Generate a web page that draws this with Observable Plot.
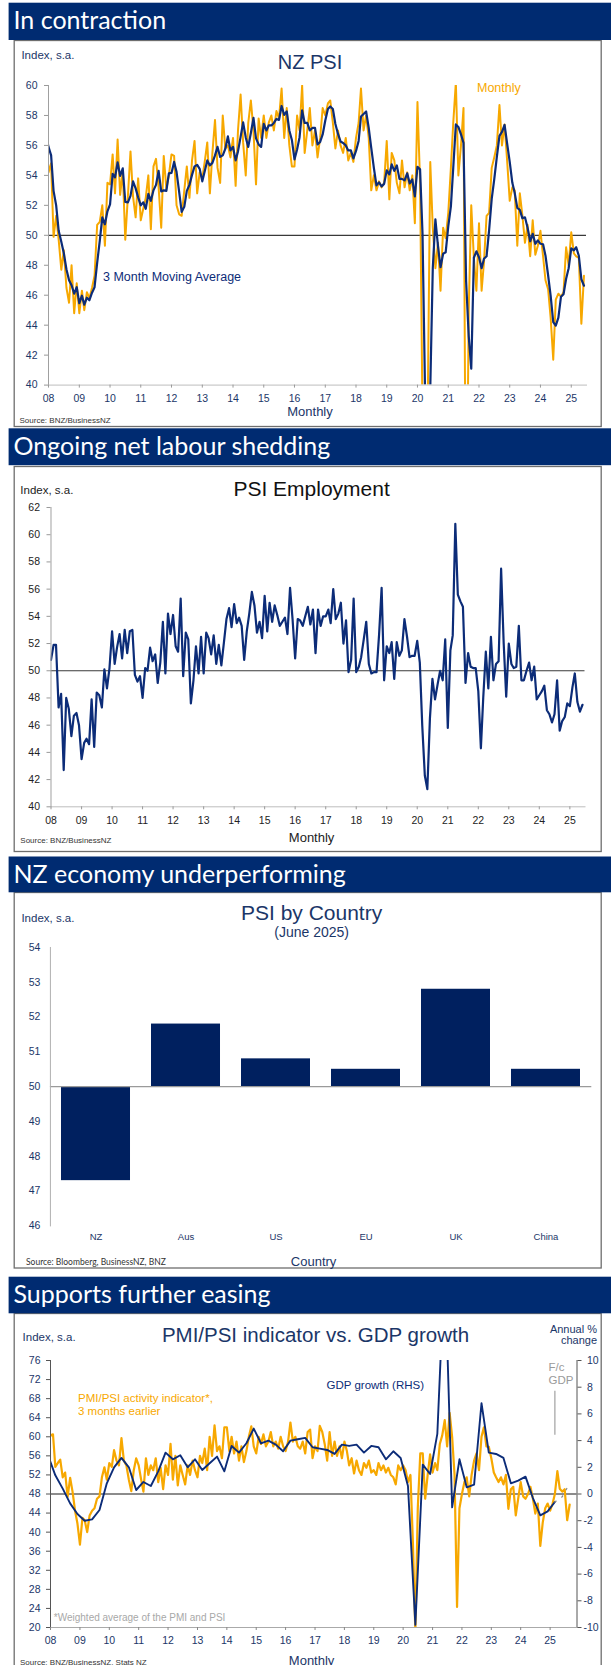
<!DOCTYPE html>
<html><head><meta charset="utf-8">
<script src="https://cdn.jsdelivr.net/npm/d3@7"></script>
<script src="https://cdn.jsdelivr.net/npm/@observablehq/plot@0.6"></script>
<style>
body{margin:0;background:#fff;}
#page{position:relative;width:611px;height:1665px;overflow:hidden;background:#fff;}
</style></head><body><div id="page"></div>
<script>
// ---------------- DATA ----------------
// NZ PSI monthly, Nov 2007 .. Jun 2025 (index, s.a.)
const psiMonthly = [
  56.5, 57.0,
  54.2, 54.8, 49.9, 51.3, 49.7, 47.7, 49.0, 46.5, 45.5, 48.0, 44.8, 46.8,
  44.8, 46.3, 45.0, 46.2, 45.8, 46.5, 47.3, 50.7, 50.9, 52.0, 49.3, 53.5,
  53.4, 55.4, 52.8, 56.4, 52.7, 54.3, 49.7, 52.6, 55.6, 52.6, 51.2, 53.8,
  51.0, 51.8, 52.5, 54.0, 50.4, 54.6, 55.1, 53.2, 50.5, 55.3, 53.1, 54.0,
  55.4, 55.3, 52.0, 51.4, 51.3, 53.0, 54.6, 52.5, 55.0, 56.3, 52.8, 54.2,
  53.8, 55.0, 56.2, 52.8, 55.5, 57.7, 54.5, 53.5, 58.0, 55.8, 56.0, 55.2,
  56.5, 53.3, 57.0, 59.4, 56.2, 54.0, 57.5, 59.0, 57.0, 53.4, 57.8, 56.5,
  58.0, 56.5, 57.5, 58.0, 57.0, 58.3, 57.8, 59.8, 56.5, 58.5, 56.0, 54.6,
  54.6, 58.0, 57.0, 60.0, 55.5, 57.0, 58.5, 56.0, 57.0, 55.2, 56.5, 58.5,
  58.0, 58.8, 59.0, 57.5, 55.8, 57.0, 56.0, 55.5, 56.5, 55.0, 55.5, 54.9,
  56.5, 57.5, 59.8, 57.0, 58.0, 56.5, 53.0, 54.0, 53.0, 53.6, 53.2, 53.5,
  56.3, 52.4, 55.5, 55.0, 53.5, 52.8, 55.0, 53.2, 54.2, 53.0, 54.0, 50.8,
  58.9, 53.5, 38.0, 26.3, 38.0, 54.9, 50.5, 47.8, 49.5, 46.3, 50.5, 49.8,
  51.5, 54.5, 57.5, 60.2, 54.0, 56.0, 58.5, 26.3, 45.0, 52.0, 48.5, 46.3,
  50.8, 46.3, 48.2, 51.3, 51.5, 54.5, 55.2, 56.0, 58.7, 56.0, 57.4, 55.0,
  52.3, 53.2, 53.0, 49.3, 52.8, 51.3, 49.5, 50.7, 48.6, 51.0, 48.7, 49.3,
  50.3, 48.6, 47.0, 46.4, 44.5, 41.7, 45.7, 46.1, 45.9, 46.2, 49.2, 48.0,
  50.2, 48.8, 48.6, 48.5, 44.1, 47.3
];
// PSI Employment monthly, Jan 2008 .. Jun 2025
const psiEmployment = [
  50.8, 51.9, 51.9, 47.3, 48.3, 42.7, 48.0, 47.2, 45.2, 46.7, 46.9, 46.0,
  43.5, 44.7, 45.0, 44.6, 47.9, 44.4, 48.4, 48.2, 47.3, 50.1, 48.7, 50.2,
  52.9, 50.5, 51.7, 52.7, 50.9, 53.0, 51.3, 52.9, 53.0, 49.7, 49.2, 49.6,
  48.0, 50.2, 50.0, 51.7, 50.7, 51.2, 49.1, 50.6, 53.6, 49.8, 54.2, 52.7,
  54.1, 51.8, 51.4, 55.3, 49.6, 52.8, 52.3, 47.6, 49.3, 51.8, 49.8, 52.5,
  49.8, 52.8, 52.4, 51.2, 52.6, 50.5, 51.9, 50.4, 52.1, 53.8, 54.6, 53.2,
  54.9, 53.5, 53.9, 53.3, 50.8, 52.9, 54.2, 55.8, 54.8, 52.8, 53.6, 52.4,
  55.5, 52.9, 55.0, 53.6, 54.8, 54.1, 53.3, 53.6, 53.9, 52.7, 56.1, 53.8,
  50.9, 53.8, 53.7, 53.3, 54.0, 54.7, 53.4, 54.5, 51.3, 54.5, 53.3, 54.0,
  54.0, 54.5, 53.5, 56.0, 53.8, 54.2, 55.0, 52.0, 53.7, 49.9, 50.8, 55.3,
  49.9, 50.3, 51.0, 52.3, 53.6, 50.5, 49.8, 49.9, 49.9, 52.6, 56.1, 49.3,
  51.8, 51.3, 52.1, 49.4, 52.1, 51.1, 51.5, 53.8, 52.5, 51.0, 51.1, 51.1,
  52.2, 50.6, 46.0, 42.3, 41.3, 46.5, 49.4, 47.9, 49.0, 50.0, 49.3, 52.3,
  45.8, 51.5, 52.6, 60.8, 55.6, 55.1, 54.7, 49.1, 51.3, 50.3, 50.2, 50.2,
  48.5, 44.3, 48.0, 51.4, 48.7, 52.5, 49.3, 50.5, 50.7, 57.5, 52.0, 48.1,
  52.0, 50.5, 50.2, 50.3, 53.3, 49.3, 49.3, 50.0, 50.6, 49.3, 50.3, 47.9,
  48.2, 48.5, 48.9, 47.1, 46.8, 46.2, 46.8, 49.3, 45.6, 46.3, 46.6, 47.6,
  47.4, 48.8, 49.8, 47.7, 47.0, 47.5
];
// PSI by country, June 2025
const countries = ["NZ", "Aus", "US", "EU", "UK", "China"];
const countryPSI = [47.3, 51.8, 50.8, 50.5, 52.8, 50.5];
// PMI/PSI activity indicator, plotted 3 months later: Jan 2008 .. Sep 2025
const activityIndicator = [
  60.3, 60.5, 53.7, 54.5, 55.2, 51.5, 52.5, 47.4, 51.4, 48.5, 44.5, 41.8,
  37.4, 43.0, 42.5, 40.0, 43.5, 44.5, 45.0, 47.0, 47.5, 51.5, 53.6, 51.0,
  54.5, 53.7, 57.2, 55.0, 54.0, 59.7, 55.0, 54.0, 51.0, 48.6, 53.0, 55.5,
  54.0, 51.0, 48.5, 55.5, 52.0, 54.0, 53.0, 55.5, 50.5, 53.5, 49.0, 54.0,
  52.0, 58.5, 51.0, 56.0, 49.8, 54.0, 52.0, 50.0, 54.0, 52.0, 55.0, 53.0,
  51.5, 56.0, 54.5, 57.5, 53.0, 60.0, 56.0, 62.4, 57.0, 58.0, 55.5, 62.0,
  62.0, 57.0, 60.0, 56.5, 59.0, 55.0, 58.0, 54.7, 57.0, 60.0, 62.2, 58.0,
  56.5, 60.0, 58.5, 60.5, 58.0, 59.0, 61.0, 58.0, 59.0, 57.5, 60.0, 58.0,
  57.0, 59.0, 63.0, 59.0, 60.0, 58.0, 57.5, 59.0, 56.5, 61.0, 61.5, 55.5,
  58.0, 57.0, 62.3, 61.0, 58.5, 55.0, 61.0, 56.0, 59.0, 56.0, 58.0, 55.5,
  59.0, 57.0, 54.0, 55.5, 52.3, 55.0, 53.0, 52.0, 54.5, 53.5, 55.0, 52.5,
  53.0, 52.0, 54.5, 53.0, 54.0, 52.5, 53.5, 52.0, 51.5, 50.0, 54.0, 53.0,
  54.0, 53.0, 50.5, 52.0, 38.0, 19.0, 45.0, 56.5, 56.5, 47.0, 52.0, 56.3,
  52.5, 54.5, 53.0, 58.5, 60.3, 63.5, 58.0, 65.0, 60.0, 52.0, 24.3, 45.0,
  48.0, 50.5, 51.5, 47.5, 52.0, 55.0, 56.5, 53.0, 60.0, 62.0, 58.0, 57.9,
  55.5, 52.5, 51.5, 50.5, 51.5, 50.0, 52.0, 44.9, 49.0, 49.5, 43.5, 47.0,
  50.5, 47.5, 47.0, 48.0, 49.5, 47.0, 43.9, 46.0, 37.1, 42.0, 45.0, 46.0,
  44.5, 46.0, 48.0, 52.8, 49.1, 48.5, 49.0, 42.5, 45.8
];
// GDP growth, annual % change, quarterly Dec 2007 .. Mar 2025
const gdpGrowth = [
  2.9,
  1.4, 0.4, -0.7, -1.5,
  -2.0, -1.9, -1.2, 0.8,
  2.0, 2.7, 2.0, 0.3,
  0.9, 0.6, 1.7, 3.1,
  2.6, 2.9, 2.0, 2.6,
  1.8, 2.3, 2.8, 1.7,
  3.6, 3.1, 3.8, 4.9,
  3.8, 4.0, 3.7, 3.2,
  4.0, 4.1, 4.2, 3.5,
  3.4, 3.3, 3.0, 3.7,
  3.6, 3.7, 3.1, 3.6,
  3.5, 2.6, 3.2, 2.7,
  0.6, -9.8, 2.2, 1.5,
  4.5, 17.4, -1.0, 2.6,
  0.5, 0.7, 6.8, 3.1,
  3.0, 2.7, 0.8, 1.0,
  1.3, -0.3, -1.6, -1.3,
  -0.6
];
// GDP forecast, quarterly Mar 2025 .. Sep 2025
const gdpForecast = [-0.6, -0.2, 0.8];
const yearTicks = d3.range(2008, 2026);
const indexTicksPSI = d3.range(40, 61, 2);
const indexTicksEmp = d3.range(40, 63, 2);
const indexTicksCountry = d3.range(46, 55, 1);
const indexTicksPMI = d3.range(20, 77, 4);
const gdpTicks = d3.range(-10, 11, 2);

// ---------------- HELPERS ----------------
const monthly = (y, m, arr) => arr.map((v, i) => ({date: new Date(Date.UTC(y, m + i, 1)), v}));
const quarterly = (y, m, arr) => arr.map((v, i) => ({date: new Date(Date.UTC(y, m + 3 * i, 1)), v}));
const psi = monthly(2007, 10, psiMonthly);
const emp = monthly(2008, 0, psiEmployment);
const byCountry = countries.map((c, i) => ({c, v: countryPSI[i]}));
const indicator = monthly(2008, 0, activityIndicator);
const gdp = quarterly(2007, 11, gdpGrowth);
const gdpFc = quarterly(2025, 2, gdpForecast);
const years = yearTicks.map(y => new Date(Date.UTC(y, 0, 1)));
const fmtYY = d3.utcFormat("%y");
const gdpToIdx = g => 48 + 2.8 * g;

const NAVY = "#0c2c78", ORANGE = "#f7a800", TXT = "#1b3668", BANNER = "#002b71", BAR = "#00205f";
const FONT = "'Liberation Sans', Arial, sans-serif";
const page = document.getElementById("page");

// ---------------- BACKGROUND: banners, boxes, texts ----------------
const bg = d3.select(page).append("svg")
  .attr("width", 611).attr("height", 1665)
  .style("position", "absolute").style("left", "0px").style("top", "0px");

function banner(top, h, label) {
  bg.append("rect").attr("x", 8.6).attr("y", top).attr("width", 603).attr("height", h).attr("fill", BANNER);
  bg.append("text").attr("x", 13.5).attr("y", top + 26.4).attr("fill", "#fff")
    .attr("font-family", "Lato, 'Open Sans', sans-serif").attr("font-size", 25).text(label);
}
function box(top, bottom) {
  bg.append("rect").attr("x", 14.2).attr("y", top).attr("width", 587).attr("height", bottom - top)
    .attr("fill", "#fff").attr("stroke", "#6e6e6e").attr("stroke-width", 1.3);
}
function txt(x, y, s, size, fill, anchor = "start", family = FONT) {
  bg.append("text").attr("x", x).attr("y", y).attr("font-size", size).attr("fill", fill)
    .attr("text-anchor", anchor).attr("font-family", family).text(s);
}

box(40.5, 426.5); box(466.5, 851.5); box(892.5, 1268); box(1313.5, 1700);
banner(2.7, 37.3, "In contraction");
banner(428.3, 36.9, "Ongoing net labour shedding");
banner(856.5, 35.8, "NZ economy underperforming");
banner(1276.7, 36.6, "Supports further easing");

// panel 1 texts
txt(21.4, 58.7, "Index, s.a.", 11.5, TXT);
txt(310, 68.5, "NZ PSI", 20, TXT, "middle");
txt(477, 91.8, "Monthly", 12.5, ORANGE);
txt(103, 281, "3 Month Moving Average", 12.5, NAVY);
txt(310, 416, "Monthly", 13, TXT, "middle");
txt(19.5, 422.8, "Source: BNZ/BusinessNZ", 8, "#333");
// panel 2 texts
txt(20.3, 494.3, "Index, s.a.", 11.5, "#222");
txt(311.6, 496.3, "PSI Employment", 21, "#111", "middle");
txt(311.6, 842, "Monthly", 13, "#222", "middle");
txt(20.3, 843, "Source: BNZ/BusinessNZ", 8, "#333");
// panel 3 texts
txt(21.4, 921.5, "Index, s.a.", 11.5, TXT);
txt(311.6, 920, "PSI by Country", 21, TXT, "middle");
txt(311.6, 936.5, "(June 2025)", 14, TXT, "middle");
txt(313.6, 1265.5, "Country", 13, TXT, "middle");
txt(26, 1264.5, "Source: Bloomberg, BusinessNZ, BNZ", 8.5, "#333", "start", "Lato, sans-serif");
// panel 4 texts
txt(22.6, 1340.5, "Index, s.a.", 11.5, TXT);
txt(315.5, 1341.5, "PMI/PSI indicator vs. GDP growth", 20.5, TXT, "middle");
txt(597, 1333, "Annual %", 11, TXT, "end");
txt(597, 1344, "change", 11, TXT, "end");
txt(326.5, 1389, "GDP growth (RHS)", 11.5, NAVY);
txt(78, 1402.3, "PMI/PSI activity indicator*,", 11.5, ORANGE);
txt(78, 1414.5, "3 months earlier", 11.5, ORANGE);
txt(548.5, 1370.7, "F/c", 11.5, "#9a9a9a");
txt(548.5, 1384, "GDP", 11.5, "#9a9a9a");
txt(53.8, 1620.7, "*Weighted average of the PMI and PSI", 10, "#a8a8a8");
txt(311.6, 1664.5, "Monthly", 13, TXT, "middle");
txt(20, 1665, "Source: BNZ/BusinessNZ, Stats NZ", 8, "#333");

// ---------------- PLOTS ----------------
function place(svg, top) {
  svg.style.position = "absolute";
  svg.style.left = "0px";
  svg.style.top = top + "px";
  page.appendChild(svg);
}
const baseStyle = {background: "transparent", fontFamily: FONT, overflow: "visible"};

// Panel 1: NZ PSI
{
  const top = 84.7, bottom = 384.3, mt = 12, mb = 36;
  const chart = Plot.plot({
    width: 611, height: (bottom - top) + mt + mb,
    marginLeft: 48, marginRight: 25, marginTop: mt, marginBottom: mb,
    style: baseStyle,
    x: {type: "utc", domain: [new Date(Date.UTC(2008, 0, 1)), new Date(Date.UTC(2025, 6, 1))]},
    y: {domain: [40, 60]},
    marks: [
      Plot.ruleY([50], {stroke: "#3a3a3a", strokeWidth: 1.2}),
      Plot.line(psi, {x: "date", y: "v", stroke: ORANGE, strokeWidth: 2, clip: true}),
      Plot.line(psi, Plot.windowY({k: 3, anchor: "end"}, {x: "date", y: "v", stroke: NAVY, strokeWidth: 2.2, clip: true})),
      Plot.frame({anchor: "left", stroke: "#a0a0a0"}),
      Plot.frame({anchor: "bottom", stroke: "#bdbdbd"}),
      Plot.axisY({ticks: indexTicksPSI, tickSize: 4, tickPadding: 7, stroke: "#999", fill: TXT, fontSize: 10.5, label: null}),
      Plot.axisX({ticks: years, tickFormat: fmtYY, tickSize: 3, tickPadding: 6, stroke: "#999", fill: TXT, fontSize: 10.5, label: null})
    ]
  });
  place(chart, top - mt);
}

// Panel 2: PSI Employment
{
  const top = 506.7, bottom = 806, mt = 12, mb = 36;
  const chart = Plot.plot({
    width: 611, height: (bottom - top) + mt + mb,
    marginLeft: 50.5, marginRight: 26.5, marginTop: mt, marginBottom: mb,
    style: baseStyle,
    x: {type: "utc", domain: [new Date(Date.UTC(2008, 0, 1)), new Date(Date.UTC(2025, 6, 1))]},
    y: {domain: [40, 62]},
    marks: [
      Plot.ruleY([50], {stroke: "#3a3a3a", strokeWidth: 1.2}),
      Plot.line(emp, {x: "date", y: "v", stroke: NAVY, strokeWidth: 2.2, clip: true}),
      Plot.frame({anchor: "left", stroke: "#a0a0a0"}),
      Plot.frame({anchor: "bottom", stroke: "#bdbdbd"}),
      Plot.axisY({ticks: indexTicksEmp, tickSize: 4, tickPadding: 7, stroke: "#999", fill: "#222", fontSize: 10.5, label: null}),
      Plot.axisX({ticks: years, tickFormat: fmtYY, tickSize: 3, tickPadding: 6.5, stroke: "#999", fill: "#222", fontSize: 10.5, label: null})
    ]
  });
  place(chart, top - mt);
}

// Panel 3: PSI by Country
{
  const top = 947.3, bottom = 1225.7, mt = 10, mb = 28;
  const chart = Plot.plot({
    width: 611, height: (bottom - top) + mt + mb,
    marginLeft: 49.9, marginRight: 19.7, marginTop: mt, marginBottom: mb,
    style: baseStyle,
    x: {domain: countries, paddingInner: 0.232, paddingOuter: 0.116},
    y: {domain: [46, 54]},
    marks: [
      Plot.barY(byCountry, {x: "c", y1: 50, y2: "v", fill: BAR}),
      Plot.ruleY([50], {stroke: "#9a9a9a", strokeWidth: 1.2}),
      Plot.frame({anchor: "left", stroke: "#b0b0b0"}),
      Plot.axisY({ticks: indexTicksCountry, tickSize: 0, tickPadding: 10, fill: TXT, fontSize: 10.5, label: null}),
      Plot.axisX({tickSize: 0, tickPadding: 7, fill: TXT, fontSize: 9.5, label: null})
    ]
  });
  place(chart, top - mt);
}

// Panel 4: PMI/PSI indicator vs GDP growth (RHS mapped onto the index scale)
{
  const top = 1360, bottom = 1627, mt = 10, mb = 30;
  const fcDate = new Date(Date.UTC(2025, 2, 1));
  const chart = Plot.plot({
    width: 611, height: (bottom - top) + mt + mb,
    marginLeft: 50, marginRight: 34.5, marginTop: mt, marginBottom: mb,
    style: baseStyle,
    x: {type: "utc", domain: [new Date(Date.UTC(2008, 0, 1)), new Date(Date.UTC(2025, 11, 1))]},
    y: {domain: [20, 76]},
    marks: [
      Plot.ruleY([48], {stroke: "#1a1a1a", strokeWidth: 1.1}),
      Plot.ruleX([fcDate], {y1: gdpToIdx(4.4), y2: gdpToIdx(7.7), stroke: "#a8a8a8", strokeWidth: 1.3}),
      Plot.line(indicator, {x: "date", y: "v", stroke: ORANGE, strokeWidth: 2.2, clip: true}),
      Plot.line(gdp, {x: "date", y: d => gdpToIdx(d.v), stroke: NAVY, strokeWidth: 1.9, clip: true}),
      Plot.line(gdpFc, {x: "date", y: d => gdpToIdx(d.v), stroke: "#8a8a8a", strokeWidth: 1.3, strokeDasharray: "1.5,7", clip: true}),
      Plot.frame({anchor: "left", stroke: "#555"}),
      Plot.frame({anchor: "right", stroke: "#555"}),
      Plot.frame({anchor: "bottom", stroke: "#aaa"}),
      Plot.axisY({ticks: indexTicksPMI, anchor: "left", tickSize: 4, tickPadding: 6, stroke: "#555", fill: TXT, fontSize: 10.5, label: null}),
      Plot.axisY({ticks: gdpTicks.filter(g => g >= 0).map(gdpToIdx), anchor: "right", tickFormat: v => String(Math.round((v - 48) / 2.8)), tickSize: 4, tickPadding: 6, stroke: "#555", fill: TXT, fontSize: 10.5, label: null}),
      Plot.axisY({ticks: gdpTicks.filter(g => g < 0).map(gdpToIdx), anchor: "right", tickFormat: v => String(Math.round((v - 48) / 2.8)), tickSize: 4, tickPadding: 2.5, stroke: "#555", fill: TXT, fontSize: 10.5, label: null}),
      Plot.axisX({ticks: years, tickFormat: fmtYY, tickSize: 3, tickPadding: 6.5, stroke: "#888", fill: TXT, fontSize: 10.5, label: null})
    ]
  });
  place(chart, top - mt);
}
</script></body></html>
